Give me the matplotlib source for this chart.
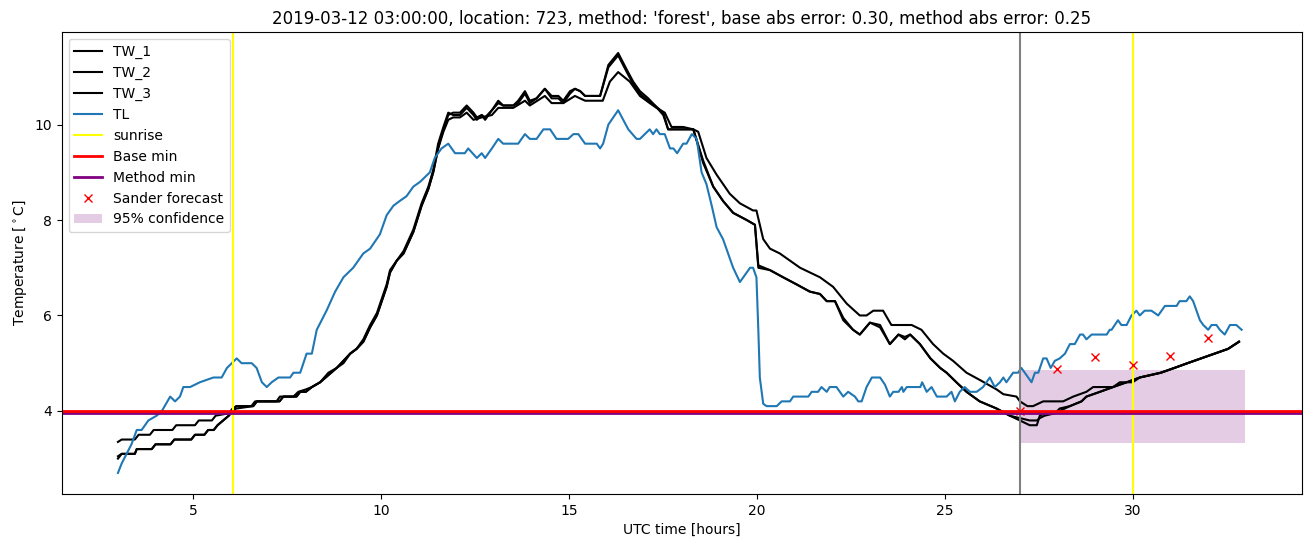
import matplotlib
matplotlib.use("Agg")
from matplotlib import pyplot as plt

# TL (air temperature)
tl_hours = [3.0, 3.1, 3.23, 3.36, 3.5, 3.63, 3.81, 4.03, 4.17, 4.39, 4.52, 4.65, 4.74, 4.92, 5.18, 5.54, 5.76, 5.9, 6.03, 6.16,
            6.29, 6.56, 6.69, 6.83, 6.96, 7.09, 7.27, 7.58, 7.67, 7.85, 8.02, 8.16, 8.29, 8.55, 8.78, 9.0, 9.26, 9.53, 9.71, 9.97,
            10.15, 10.33, 10.5, 10.68, 10.86, 11.04, 11.17, 11.3, 11.43, 11.61, 11.79, 11.97, 12.23, 12.32, 12.55, 12.68, 12.77, 12.95, 13.12, 13.25,
            13.65, 13.83, 13.96, 14.14, 14.32, 14.5, 14.67, 14.98, 15.12, 15.25, 15.43, 15.74, 15.83, 15.91, 16.05, 16.31, 16.58, 16.8, 16.89, 17.02,
            17.15, 17.24, 17.33, 17.42, 17.55, 17.69, 17.78, 17.88, 18.04, 18.13, 18.27, 18.4, 18.53, 18.66, 18.8, 18.93, 19.1, 19.37, 19.55, 19.64,
            19.82, 19.9, 19.99, 20.04, 20.08, 20.17, 20.26, 20.53, 20.66, 20.88, 20.97, 21.37, 21.46, 21.63, 21.72, 21.86, 21.94, 22.12, 22.3, 22.43,
            22.61, 22.7, 22.79, 22.92, 23.06, 23.28, 23.41, 23.54, 23.63, 23.77, 23.86, 23.9, 23.99, 24.35, 24.4, 24.52, 24.65, 24.79, 25.05, 25.18,
            25.27, 25.4, 25.53, 25.67, 25.85, 26.02, 26.11, 26.2, 26.33, 26.47, 26.56, 26.64, 26.82, 26.95, 27.04, 27.13, 27.31, 27.4, 27.49, 27.62,
            27.71, 27.82, 27.93, 28.06, 28.2, 28.33, 28.46, 28.6, 28.68, 28.77, 28.91, 29.31, 29.39, 29.44, 29.61, 29.7, 29.84, 29.97, 30.1, 30.19,
            30.32, 30.5, 30.68, 30.86, 31.03, 31.17, 31.25, 31.43, 31.52, 31.61, 31.7, 31.79, 31.88, 32.01, 32.1, 32.23, 32.32, 32.45, 32.59, 32.76, 32.9]
tl_temps = [2.7, 2.9, 3.1, 3.3, 3.6, 3.6, 3.8, 3.9, 4.0, 4.3, 4.2, 4.3, 4.5, 4.5, 4.6, 4.7, 4.7, 4.9, 5.0, 5.1,
            5.0, 5.0, 4.9, 4.6, 4.5, 4.6, 4.7, 4.7, 4.8, 4.8, 5.2, 5.2, 5.7, 6.1, 6.5, 6.8, 7.0, 7.3, 7.4, 7.7,
            8.1, 8.3, 8.4, 8.5, 8.7, 8.8, 8.9, 9.0, 9.3, 9.5, 9.6, 9.4, 9.4, 9.5, 9.3, 9.4, 9.3, 9.5, 9.7, 9.6,
            9.6, 9.8, 9.7, 9.7, 9.9, 9.9, 9.7, 9.7, 9.8, 9.8, 9.6, 9.6, 9.5, 9.6, 10.0, 10.3, 9.9, 9.7, 9.7, 9.8,
            9.9, 9.8, 9.9, 9.8, 9.8, 9.5, 9.5, 9.4, 9.6, 9.6, 9.8, 9.7, 9.0, 8.75, 8.3, 7.85, 7.6, 7.0, 6.7, 6.8,
            7.0, 7.0, 6.8, 5.7, 4.7, 4.15, 4.1, 4.1, 4.2, 4.2, 4.3, 4.3, 4.4, 4.4, 4.5, 4.4, 4.5, 4.5, 4.3, 4.4,
            4.3, 4.2, 4.2, 4.5, 4.7, 4.7, 4.55, 4.3, 4.4, 4.4, 4.5, 4.4, 4.5, 4.5, 4.6, 4.4, 4.5, 4.3, 4.3, 4.4,
            4.2, 4.4, 4.5, 4.4, 4.4, 4.5, 4.6, 4.7, 4.5, 4.6, 4.7, 4.6, 4.8, 4.8, 4.9, 4.8, 4.6, 4.8, 4.8, 5.1,
            5.1, 4.9, 5.05, 5.1, 5.2, 5.4, 5.4, 5.6, 5.6, 5.5, 5.6, 5.6, 5.7, 5.7, 5.9, 5.8, 5.8, 6.0, 6.1, 6.0,
            6.1, 6.1, 6.0, 6.2, 6.2, 6.2, 6.3, 6.3, 6.4, 6.3, 6.1, 5.9, 5.8, 5.7, 5.8, 5.8, 5.7, 5.6, 5.8, 5.8, 5.7]

# TW_1 / TW_2 (nearly identical sensors) share the same time stamps
tw_hours = [3.0, 3.1, 3.45, 3.5, 3.9, 4.0, 4.4, 4.5, 4.95, 5.05, 5.3, 5.4, 5.55, 5.65, 5.8, 5.95, 6.05, 6.15, 6.6, 6.7,
            7.3, 7.4, 7.75, 7.85, 8.0, 8.16, 8.38, 8.6, 8.82, 9.0,
            9.18, 9.35, 9.53, 9.71, 9.89, 10.15, 10.24, 10.42, 10.6, 10.86, 11.08, 11.26, 11.39, 11.52, 11.66, 11.79, 11.92, 12.1, 12.28, 12.46,
            12.55, 12.68, 12.77, 12.95, 13.12, 13.25, 13.52, 13.65, 13.83, 13.96, 14.14, 14.36, 14.54, 14.72, 14.85, 15.03, 15.16, 15.3, 15.43, 15.83,
            16.05, 16.31, 16.54, 16.71, 16.89, 17.11, 17.29, 17.51, 17.64, 18.31, 18.57, 18.84, 19.1, 19.37, 19.73, 19.95, 20.04, 20.35, 20.7, 21.06,
            21.41, 21.68, 21.86, 22.08, 22.3, 22.56, 22.74, 23.01, 23.28, 23.54, 23.77, 23.94, 24.08, 24.34, 24.62, 24.88, 25.05, 25.31, 25.58, 25.93,
            26.38, 26.73, 27.0, 27.26, 27.45, 27.53, 27.66, 27.93, 28.06, 28.33, 28.64, 28.77, 29.13, 29.48, 29.84, 30.19, 30.75, 31.11, 31.46, 31.82,
            32.18, 32.54, 32.83]
tw1_temps = [3.0, 3.1, 3.1, 3.2, 3.2, 3.3, 3.3, 3.4, 3.4, 3.5, 3.5, 3.6, 3.6, 3.7, 3.8, 3.9, 4.0, 4.1, 4.1, 4.2,
             4.2, 4.3, 4.3, 4.4, 4.4, 4.5, 4.6, 4.8, 4.9, 5.05,
             5.2, 5.3, 5.5, 5.8, 6.05, 6.65, 6.95, 7.15, 7.35, 7.8, 8.35, 8.7, 9.05, 9.6, 9.95, 10.25, 10.2, 10.2, 10.35, 10.2,
             10.1, 10.2, 10.1, 10.3, 10.45, 10.4, 10.4, 10.45, 10.65, 10.45, 10.55, 10.75, 10.55, 10.55, 10.45, 10.65, 10.75, 10.7, 10.6, 10.6,
             11.2, 11.45, 11.1, 10.85, 10.65, 10.5, 10.4, 10.2, 9.9, 9.9, 9.2, 8.7, 8.4, 8.15, 8.0, 7.9, 7.0, 6.95, 6.8, 6.65,
             6.5, 6.45, 6.3, 6.3, 5.95, 5.7, 5.6, 5.85, 5.8, 5.4, 5.6, 5.5, 5.6, 5.4, 5.1, 4.9, 4.8, 4.6, 4.4, 4.2,
             4.05, 3.9, 3.8, 3.7, 3.7, 3.9, 3.95, 3.95, 4.0, 4.1, 4.2, 4.3, 4.4, 4.5, 4.6, 4.7, 4.8, 4.9, 5.0, 5.1,
             5.2, 5.3, 5.45]
tw2_temps = [3.05, 3.1, 3.1, 3.2, 3.2, 3.3, 3.3, 3.4, 3.4, 3.5, 3.5, 3.6, 3.6, 3.7, 3.8, 3.9, 4.0, 4.05, 4.1, 4.2,
             4.2, 4.3, 4.3, 4.4, 4.4, 4.5, 4.6, 4.75, 4.9, 5.0,
             5.2, 5.3, 5.45, 5.75, 6.0, 6.6, 6.9, 7.15, 7.3, 7.75, 8.3, 8.65, 9.0, 9.5, 9.9, 10.2, 10.25, 10.25, 10.4, 10.25,
             10.15, 10.2, 10.15, 10.3, 10.5, 10.4, 10.4, 10.5, 10.7, 10.5, 10.55, 10.75, 10.6, 10.6, 10.5, 10.7, 10.75, 10.7, 10.6, 10.6,
             11.25, 11.5, 11.15, 10.9, 10.7, 10.55, 10.4, 10.25, 9.9, 9.9, 9.25, 8.7, 8.4, 8.15, 8.0, 7.9, 7.05, 6.95, 6.8, 6.65,
             6.5, 6.45, 6.3, 6.3, 5.9, 5.7, 5.6, 5.85, 5.75, 5.4, 5.6, 5.55, 5.6, 5.4, 5.1, 4.9, 4.8, 4.6, 4.4, 4.2,
             4.05, 3.9, 3.85, 3.8, 3.8, 3.85, 3.9, 3.95, 4.05, 4.1, 4.2, 4.3, 4.4, 4.5, 4.6, 4.7, 4.8, 4.9, 5.0, 5.1,
             5.2, 5.3, 5.45]

tw3_hours = [3.0, 3.1, 3.45, 3.55, 3.85, 3.95, 4.45, 4.55, 5.05, 5.15, 5.5, 5.6, 5.95, 6.05, 6.15, 6.55, 6.65, 7.22, 7.31, 7.67,
             7.8, 8.0, 8.16, 8.38, 8.6, 8.82, 9.0, 9.18, 9.35, 9.53,
             9.71, 9.89, 10.15, 10.24, 10.42, 10.6, 10.86, 11.08, 11.26, 11.39, 11.52, 11.66, 11.79, 11.92, 12.1, 12.28, 12.46, 12.68, 12.95, 13.12,
             13.52, 13.83, 13.96, 14.36, 14.54, 14.85, 15.16, 15.43, 15.9, 16.09, 16.31, 16.62, 16.89, 17.15, 17.33, 17.55, 17.73, 18.04, 18.31, 18.44,
             18.66, 18.93, 19.28, 19.55, 19.9, 19.99, 20.17, 20.35, 20.61, 20.88, 21.15, 21.68, 22.03, 22.39, 22.74, 22.92, 23.1, 23.36, 23.58, 24.12,
             24.38, 24.69, 24.96, 25.22, 25.58, 25.93, 26.38, 26.56, 26.91, 27.0, 27.2, 27.35, 27.62, 28.15, 28.42, 28.77, 28.95, 29.48, 29.66, 30.0,
             30.19, 30.75, 31.11, 31.46, 31.82, 32.18, 32.54, 32.83]
tw3_temps = [3.35, 3.4, 3.4, 3.5, 3.5, 3.6, 3.6, 3.7, 3.7, 3.8, 3.8, 3.9, 3.95, 4.05, 4.1, 4.1, 4.2, 4.2, 4.3, 4.3,
             4.4, 4.45, 4.5, 4.6, 4.75, 4.9, 5.05, 5.2, 5.3, 5.45,
             5.75, 6.0, 6.6, 6.9, 7.15, 7.3, 7.75, 8.3, 8.65, 9.0, 9.5, 9.85, 10.1, 10.15, 10.15, 10.25, 10.1, 10.15, 10.2, 10.35,
             10.35, 10.5, 10.4, 10.6, 10.45, 10.45, 10.6, 10.5, 10.5, 10.9, 11.1, 10.9, 10.6, 10.45, 10.35, 10.25, 9.95, 9.95, 9.9, 9.85,
             9.3, 8.95, 8.55, 8.35, 8.2, 8.2, 7.6, 7.4, 7.3, 7.15, 7.0, 6.8, 6.6, 6.25, 6.0, 6.0, 6.1, 6.1, 5.8, 5.8,
             5.7, 5.4, 5.2, 5.05, 4.8, 4.65, 4.45, 4.35, 4.3, 4.2, 4.1, 4.1, 4.2, 4.2, 4.3, 4.4, 4.5, 4.5, 4.6, 4.6,
             4.7, 4.8, 4.9, 5.0, 5.1, 5.2, 5.3, 5.45]

sunrise_hours = [6.05, 30.02]
forecast_start = 27
base_min = 4.0
method_min = 3.965

fc_hours = [27, 28, 29, 30, 31, 32]
fc_temps = [3.99, 4.87, 5.13, 4.97, 5.15, 5.52]

conf_hours = [27, 33]
conf_low = [3.33, 3.33]
conf_high = [4.86, 4.86]

title = ("2019-03-12 03:00:00, location: 723, method: 'forest', "
         "base abs error: 0.30, method abs error: 0.25")

fig, ax = plt.subplots(figsize=(13.1, 5.47), dpi=100)
fig.subplots_adjust(left=0.047, right=0.9937, bottom=0.097, top=0.9415)

ax.plot(tw_hours, tw1_temps, color="black", label="TW_1")
ax.plot(tw_hours, tw2_temps, color="black", label="TW_2")
ax.plot(tw3_hours, tw3_temps, color="black", label="TW_3")
ax.plot(tl_hours, tl_temps, color="C0", label="TL")

for i, h in enumerate(sunrise_hours):
    ax.axvline(h, color="yellow", label="sunrise" if i == 0 else None)

ax.axhline(base_min, color="red", linewidth=2, label="Base min", zorder=2.2)
ax.axhline(method_min, color="purple", linewidth=2, label="Method min", zorder=2.1)
ax.axvline(forecast_start, color="gray")

ax.plot(fc_hours, fc_temps, "x", color="red", label="Sander forecast")
ax.fill_between(conf_hours, conf_low, conf_high, color="purple", alpha=0.2,
                linewidth=0, label="95% confidence")

ax.set_title(title)
ax.set_xlabel("UTC time [hours]")
ax.set_ylabel(r"Temperature [$^\circ$C]")
ax.legend(loc="upper left")

plt.savefig("out.png", dpi=100)
